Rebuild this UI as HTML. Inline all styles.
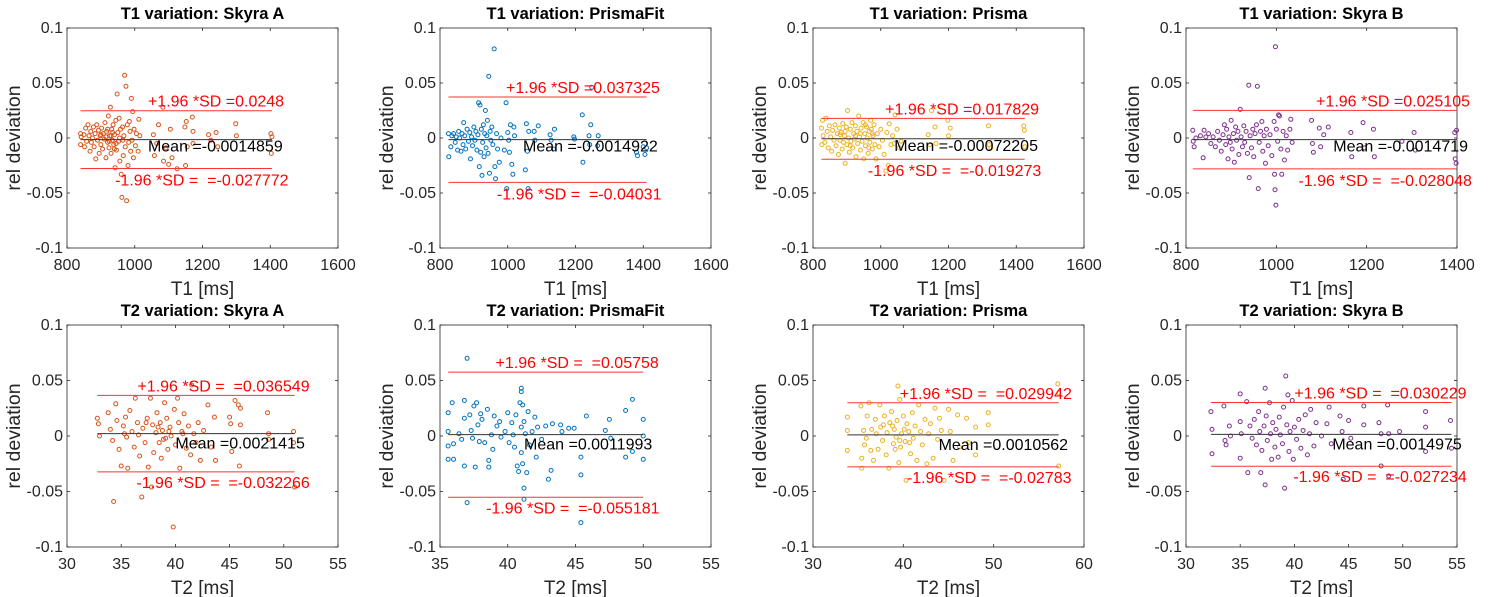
<!DOCTYPE html>
<html><head><meta charset="utf-8"><style>
html,body{margin:0;padding:0;background:#fff;}
svg{display:block;font-family:"Liberation Sans",sans-serif;}
</style></head><body>
<svg id="fig" width="1493" height="597" viewBox="0 0 1493 597" xmlns="http://www.w3.org/2000/svg"></svg>
<script>
// ---- data ----
const panelTitles=["T1 variation: Skyra A","T1 variation: PrismaFit","T1 variation: Prisma","T1 variation: Skyra B","T2 variation: Skyra A","T2 variation: PrismaFit","T2 variation: Prisma","T2 variation: Skyra B"];
const xLabels=["T1 [ms]","T1 [ms]","T1 [ms]","T1 [ms]","T2 [ms]","T2 [ms]","T2 [ms]","T2 [ms]"];
const xTicks=[[800,1000,1200,1400,1600],[800,1000,1200,1400,1600],[800,1000,1200,1400,1600],[800,1000,1200,1400],[30,35,40,45,50,55],[35,40,45,50,55],[30,40,50,60],[30,35,40,45,50,55]];
const yTicks=[0.1,0.05,0,-0.05,-0.1];
const yTickLabels=["0.1","0.05","0","-0.05","-0.1"];
const upperSD=[0.0248,0.037325,0.017829,0.025105,0.036549,0.05758,0.029942,0.030229];
const meanDev=[-0.0014859,-0.0014922,-0.00072205,-0.0014719,0.0021415,0.0011993,0.0010562,0.0014975];
const lowerSD=[-0.027772,-0.04031,-0.019273,-0.028048,-0.032266,-0.055181,-0.02783,-0.027234];
const upperText=["+1.96 *SD =0.0248","+1.96 *SD =0.037325","+1.96 *SD =0.017829","+1.96 *SD =0.025105","+1.96 *SD =  =0.036549","+1.96 *SD =  =0.05758","+1.96 *SD =  =0.029942","+1.96 *SD =  =0.030229"];
const meanText=["Mean =-0.0014859","Mean =-0.0014922","Mean =-0.00072205","Mean =-0.0014719","Mean =0.0021415","Mean =0.0011993","Mean =0.0010562","Mean =0.0014975"];
const lowerText=["-1.96 *SD =  =-0.027772","-1.96 *SD =  =-0.04031","-1.96 *SD =  =-0.019273","-1.96 *SD =  =-0.028048","-1.96 *SD =  =-0.032266","-1.96 *SD =  =-0.055181","-1.96 *SD =  =-0.02783","-1.96 *SD =  =-0.027234"];

const t1SkyraA=[[840,0.004],[840,-0.006],[842,0.001],[850,0.003],[852,-0.008],[855,0.009],[858,-0.003],[862,0.012],[865,0.002],[868,-0.012],[870,0.006],[872,-0.004],[875,0.000],[878,0.010],[880,-0.008],[883,0.004],[885,-0.019],[888,0.012],[890,-0.002],[893,0.007],[895,-0.014],[898,0.002],[900,-0.006],[902,0.009],[905,-0.010],[907,0.004],[910,-0.001],[912,0.014],[915,-0.018],[917,0.006],[920,-0.004],[922,0.020],[924,-0.009],[926,0.002],[928,0.028],[930,-0.014],[932,0.008],[934,-0.002],[936,0.012],[938,-0.006],[940,0.003],[942,-0.027],[944,0.016],[946,-0.011],[948,0.040],[950,0.005],[952,-0.003],[954,0.018],[956,-0.021],[958,0.008],[960,-0.033],[962,-0.054],[964,0.010],[966,-0.016],[968,0.002],[970,0.057],[972,-0.008],[974,0.047],[976,-0.057],[978,0.012],[980,-0.025],[982,-0.004],[984,0.015],[986,0.006],[988,-0.012],[990,0.036],[992,-0.002],[994,0.024],[996,-0.018],[998,0.008],[1002,-0.007],[1005,0.004],[1010,-0.012],[1012,0.017],[1015,0.002],[1055,0.003],[1058,-0.016],[1065,-0.005],[1070,0.012],[1083,0.028],[1085,-0.021],[1092,-0.009],[1100,-0.024],[1105,0.008],[1110,-0.018],[1125,-0.028],[1148,0.010],[1150,-0.025],[1152,0.015],[1155,-0.008],[1170,0.019],[1172,0.006],[1172,-0.005],[1218,0.003],[1225,-0.002],[1240,0.005],[1245,-0.008],[1298,0.013],[1300,0.002],[1402,0.004],[1403,-0.014],[1405,0.001],[900,0.003],[915,0.001],[925,-0.003],[935,0.005],[945,-0.005],[955,0.000],[965,-0.002],[930,0.002],[920,0.008],[940,-0.010]];
const t1PrismaFit=[[825,0.004],[826,-0.017],[832,-0.008],[835,0.002],[840,0.004],[845,-0.004],[848,0.001],[852,-0.011],[855,0.006],[858,0.000],[862,-0.012],[865,0.004],[868,-0.006],[870,0.014],[873,0.002],[876,-0.010],[880,0.008],[884,-0.003],[888,0.005],[890,-0.019],[893,0.001],[896,-0.007],[900,0.010],[903,-0.002],[906,0.006],[909,-0.011],[912,0.003],[914,0.032],[916,-0.026],[918,0.030],[920,-0.013],[922,0.008],[924,-0.034],[926,-0.004],[928,0.012],[930,-0.017],[932,0.004],[934,0.025],[936,-0.009],[938,0.002],[940,0.016],[942,-0.014],[944,0.056],[946,-0.032],[948,0.006],[950,-0.002],[953,0.010],[956,-0.006],[960,0.081],[962,-0.026],[964,-0.037],[967,0.004],[970,-0.010],[975,-0.022],[980,0.000],[990,-0.011],[995,0.032],[997,-0.046],[1000,0.005],[1003,-0.002],[1005,-0.013],[1008,0.012],[1012,-0.024],[1015,-0.033],[1018,0.010],[1020,0.002],[1052,-0.029],[1055,0.013],[1058,-0.012],[1060,-0.046],[1062,0.006],[1078,0.006],[1080,-0.002],[1090,0.011],[1125,0.003],[1128,-0.002],[1135,-0.010],[1138,0.008],[1195,0.001],[1197,-0.001],[1220,0.021],[1222,-0.022],[1240,0.002],[1242,-0.006],[1245,0.012],[1248,0.046],[1265,-0.007],[1267,0.002],[1380,-0.013],[1383,-0.016],[1400,-0.008],[1405,-0.015],[1410,-0.009]];
const t1Prisma=[[825,0.009],[826,-0.006],[828,0.016],[830,0.002],[835,-0.004],[838,0.018],[842,0.006],[845,-0.009],[848,0.011],[852,0.001],[855,-0.012],[858,0.007],[862,-0.002],[865,0.012],[868,-0.007],[872,0.004],[875,-0.015],[878,0.009],[880,-0.002],[883,0.005],[886,-0.010],[888,0.013],[890,-0.004],[893,0.002],[895,-0.023],[898,0.010],[900,-0.006],[902,0.025],[905,0.000],[907,-0.013],[910,0.008],[912,-0.003],[915,0.014],[917,-0.009],[920,0.004],[922,-0.001],[925,0.011],[927,-0.017],[930,0.006],[932,-0.005],[935,0.020],[937,0.001],[940,-0.011],[942,0.009],[945,-0.003],[948,0.014],[950,-0.019],[953,0.004],[955,-0.007],[958,0.010],[960,0.000],[963,-0.014],[966,0.006],[968,-0.004],[970,0.016],[972,0.008],[975,-0.010],[977,0.002],[980,0.012],[983,-0.006],[986,-0.019],[990,0.004],[995,-0.008],[1000,0.008],[1005,-0.002],[1010,-0.015],[1015,-0.030],[1018,0.005],[1022,-0.025],[1025,0.013],[1030,-0.006],[1035,0.002],[1040,-0.005],[1042,0.021],[1048,0.008],[1055,-0.009],[1060,-0.003],[1140,0.003],[1145,-0.006],[1150,0.025],[1160,0.010],[1163,-0.005],[1198,0.016],[1200,0.002],[1205,0.009],[1318,0.011],[1320,-0.006],[1325,-0.009],[1422,0.011],[1424,0.007],[1425,-0.008],[880,0.003],[895,0.006],[910,-0.007],[925,0.002],[940,0.004],[955,0.012],[965,-0.009],[975,0.004]];
const t1SkyraB=[[815,0.007],[816,-0.003],[818,-0.008],[822,0.000],[832,0.002],[838,-0.018],[840,0.007],[844,0.001],[850,0.004],[855,-0.005],[860,0.001],[865,-0.008],[870,0.006],[874,-0.002],[878,-0.012],[882,0.003],[885,0.012],[888,-0.006],[890,0.008],[893,-0.019],[895,0.001],[898,-0.004],[900,0.016],[902,-0.010],[905,0.004],[907,-0.022],[910,0.010],[912,-0.002],[915,0.006],[917,-0.015],[920,0.026],[922,0.001],[925,-0.008],[928,0.011],[930,-0.004],[933,0.006],[936,-0.014],[939,0.048],[940,-0.036],[942,0.002],[945,-0.009],[948,0.008],[950,-0.017],[953,0.004],[956,0.012],[958,0.047],[960,-0.046],[962,-0.004],[965,0.006],[968,0.015],[970,-0.012],[973,0.002],[976,-0.023],[978,0.008],[982,-0.007],[986,0.003],[990,-0.016],[995,0.015],[996,-0.033],[997,-0.047],[998,0.083],[999,-0.061],[1000,0.008],[1003,-0.003],[1005,0.021],[1007,0.020],[1010,-0.010],[1012,-0.033],[1015,0.006],[1018,-0.020],[1022,0.002],[1025,-0.011],[1030,0.008],[1032,0.017],[1035,-0.004],[1078,0.016],[1080,-0.005],[1082,-0.013],[1095,0.009],[1098,-0.008],[1105,0.003],[1115,0.010],[1165,0.005],[1167,-0.017],[1192,0.014],[1195,-0.009],[1215,0.008],[1217,-0.017],[1278,-0.003],[1305,0.005],[1308,-0.011],[1395,0.005],[1396,-0.019],[1398,-0.023],[1399,0.007]];
const t2SkyraA=[[32.8,0.016],[32.9,0.011],[33.0,0.000],[33.8,0.021],[34.0,0.006],[34.2,-0.004],[34.3,-0.059],[34.5,0.029],[34.6,0.014],[34.8,-0.012],[35.0,-0.027],[35.2,0.009],[35.4,0.017],[35.5,-0.001],[35.6,-0.029],[35.8,0.023],[36.0,0.004],[36.2,-0.010],[36.3,0.034],[36.5,0.012],[36.7,-0.018],[36.9,-0.055],[37.0,0.007],[37.2,-0.006],[37.4,0.016],[37.5,-0.028],[37.7,0.034],[37.8,-0.046],[37.9,0.010],[38.0,-0.015],[38.2,0.003],[38.3,0.021],[38.5,-0.006],[38.6,0.012],[38.7,-0.020],[38.8,0.005],[39.0,0.030],[39.1,-0.002],[39.2,0.016],[39.3,-0.012],[39.5,0.008],[39.6,0.000],[39.8,-0.082],[39.9,0.024],[40.0,-0.008],[40.2,0.034],[40.3,0.012],[40.4,-0.029],[40.6,0.004],[40.8,0.020],[41.0,-0.011],[41.2,0.009],[41.4,-0.017],[41.5,0.046],[41.7,0.002],[41.9,-0.006],[42.1,0.012],[42.3,-0.022],[42.6,0.005],[43.0,0.028],[43.3,-0.010],[43.6,0.017],[43.7,-0.022],[45.0,0.017],[45.1,0.011],[45.2,-0.014],[45.5,0.032],[45.8,0.028],[45.9,-0.027],[46.0,0.025],[46.0,0.010],[48.5,0.021],[48.6,0.002],[48.6,-0.003],[50.9,0.004],[51.0,-0.046],[50.9,-0.006],[38.4,0.008],[38.9,-0.003],[39.4,0.004],[36.6,0.001],[35.3,0.002],[37.3,0.012],[40.7,0.002]];
const t2PrismaFit=[[35.6,0.021],[35.6,0.004],[35.6,-0.009],[35.6,-0.021],[35.9,0.030],[36.0,-0.021],[36.0,-0.007],[36.4,0.002],[36.6,-0.003],[36.8,0.032],[36.8,0.016],[36.8,-0.027],[37.0,0.070],[37.0,-0.060],[37.2,0.019],[37.3,0.005],[37.4,-0.002],[37.5,0.027],[37.6,-0.028],[37.7,0.030],[37.8,0.010],[37.9,-0.005],[38.0,0.020],[38.1,0.015],[38.3,-0.006],[38.5,0.024],[38.6,-0.022],[38.6,-0.028],[38.8,0.001],[38.9,-0.012],[39.0,0.018],[39.2,0.009],[39.4,0.013],[39.5,-0.001],[39.8,0.004],[40.0,0.021],[40.1,-0.006],[40.3,0.012],[40.4,0.001],[40.5,-0.010],[40.6,0.019],[40.7,-0.027],[40.8,-0.032],[40.9,0.030],[41.0,0.043],[41.0,0.040],[41.0,0.008],[41.0,-0.015],[41.1,0.028],[41.1,-0.025],[41.2,0.013],[41.2,-0.047],[41.2,-0.057],[41.3,0.002],[41.4,-0.033],[41.5,0.022],[41.6,-0.008],[41.8,0.004],[42.0,0.017],[42.1,-0.019],[42.2,0.008],[42.5,-0.003],[42.8,0.009],[43.0,-0.039],[43.2,-0.031],[43.3,0.011],[43.9,0.010],[44.0,0.004],[44.5,0.007],[44.9,0.007],[45.4,-0.019],[45.4,-0.035],[45.4,-0.078],[45.8,0.018],[47.2,0.005],[47.5,0.015],[47.6,-0.002],[48.7,0.023],[48.7,-0.019],[49.2,0.033],[49.2,-0.014],[50.0,0.015],[50.0,0.000],[50.0,-0.021]];
const t2Prisma=[[33.8,0.017],[33.8,0.005],[33.8,-0.013],[35.3,0.027],[35.4,-0.020],[35.4,-0.029],[35.6,0.005],[35.7,-0.008],[35.9,-0.002],[36.0,0.018],[36.2,0.030],[36.4,-0.013],[36.5,0.006],[36.7,-0.022],[36.9,0.015],[37.0,0.002],[37.2,-0.012],[37.4,0.028],[37.5,0.008],[37.7,-0.004],[37.9,0.018],[38.1,-0.017],[38.2,0.003],[38.4,-0.029],[38.5,0.012],[38.7,0.022],[38.9,-0.007],[39.0,0.006],[39.2,-0.001],[39.3,0.014],[39.4,0.045],[39.5,-0.024],[39.6,0.033],[39.7,-0.010],[39.8,0.002],[40.0,0.018],[40.2,-0.005],[40.3,-0.040],[40.4,0.011],[40.6,0.004],[40.8,-0.016],[41.0,0.021],[41.1,-0.002],[41.3,0.009],[41.5,-0.022],[41.7,0.028],[41.9,0.004],[42.1,-0.008],[42.4,0.015],[42.6,-0.025],[42.8,0.002],[43.0,0.011],[43.3,-0.020],[43.5,0.025],[43.8,-0.003],[44.0,0.016],[44.2,0.005],[44.5,-0.040],[45.0,0.024],[45.2,0.004],[45.5,-0.022],[46.0,0.019],[46.2,-0.010],[47.0,0.016],[47.2,-0.006],[48.0,0.008],[48.0,-0.017],[49.4,0.021],[49.4,0.010],[57.1,0.047],[57.2,0.039],[57.2,-0.027],[38.8,0.009],[39.6,-0.004],[40.1,0.006],[37.8,0.010],[39.1,-0.012],[40.7,-0.006]];
const t2SkyraB=[[32.3,0.022],[32.4,0.006],[32.4,-0.016],[33.5,0.027],[33.6,-0.004],[33.7,-0.008],[34.0,0.009],[34.1,0.000],[35.0,0.038],[35.0,0.013],[35.0,-0.020],[35.1,0.002],[35.6,0.031],[35.7,-0.033],[35.9,0.009],[36.1,-0.002],[36.3,0.015],[36.5,-0.008],[36.7,0.022],[36.8,0.004],[36.9,-0.033],[37.0,-0.013],[37.2,0.009],[37.3,0.043],[37.3,-0.044],[37.4,0.018],[37.5,-0.004],[37.7,0.030],[37.8,0.002],[37.9,-0.021],[38.0,0.012],[38.2,-0.010],[38.3,0.006],[38.5,-0.019],[38.6,0.017],[38.7,0.001],[38.9,-0.007],[39.0,0.026],[39.1,-0.047],[39.2,0.054],[39.3,0.010],[39.4,0.037],[39.5,-0.014],[39.6,0.004],[39.8,0.032],[39.9,-0.021],[40.0,0.008],[40.2,-0.003],[40.4,0.015],[40.6,-0.011],[40.8,0.005],[41.0,0.019],[41.2,-0.017],[41.4,0.002],[41.5,0.024],[41.8,-0.009],[42.0,0.012],[42.5,0.000],[43.0,0.011],[43.2,0.026],[43.4,-0.007],[44.2,0.018],[44.4,0.004],[44.5,-0.039],[45.0,0.014],[45.2,-0.002],[46.4,0.027],[46.4,0.010],[47.8,0.012],[48.0,0.002],[48.0,-0.027],[48.6,0.028],[48.7,0.002],[48.7,-0.036],[49.7,0.004],[52.1,0.022],[52.1,0.008],[52.1,-0.014],[54.4,0.014],[54.5,-0.011]];
const panelData=[t1SkyraA,t1PrismaFit,t1Prisma,t1SkyraB,t2SkyraA,t2PrismaFit,t2Prisma,t2SkyraB];

// ---- layout / style (not data) ----
const colors=["#D95319","#0072BD","#EDB120","#7E2F8E","#D95319","#0072BD","#EDB120","#7E2F8E"];
const boxLeft=[67,440,813,1186];
const boxW=271;
const rowTop=[28,325], rowBot=[248,547];
const labelX=[[1039,1039,942],[995,1045,968],[1013,1040,962],[1088,1126,1049],[36.5,40.0,36.4],[39.1,41.2,38.4],[39.6,43.9,40.4],[40.0,43.5,39.9]];
const NS="http://www.w3.org/2000/svg";
const svg=document.getElementById('fig');
function el(tag,attrs,parent){const e=document.createElementNS(NS,tag);for(const k in attrs)e.setAttribute(k,attrs[k]);(parent||svg).appendChild(e);return e;}

for(let p=0;p<8;p++){
  const row=p<4?0:1, col=p%4;
  const L=boxLeft[col], R=L+boxW, T=rowTop[row], B=rowBot[row];
  const ticks=xTicks[p];
  const xmin=ticks[0], xmax=ticks[ticks.length-1];
  const sx=v=>L+(v-xmin)/(xmax-xmin)*(R-L);
  const sy=v=>T+(0.1-v)/0.2*(B-T);
  const g=el('g',{});
  
  
  const title=el('text',{x:(L+R)/2,y:T-9,'text-anchor':'middle','font-size':'16.5','font-weight':'bold',fill:'#000'},g);
  title.textContent=panelTitles[p];
  
  
  const frame=el('rect',{x:L,y:T,width:R-L,height:B-T,fill:'#fff',stroke:'#262626','stroke-width':'0.8'},g);
  
  
  yTicks.forEach((v,i)=>{
    const y=sy(v);
    el('line',{x1:L,x2:L+3,y1:y,y2:y,stroke:'#262626','stroke-width':'0.8'},g);
    el('line',{x1:R,x2:R-3,y1:y,y2:y,stroke:'#262626','stroke-width':'0.8'},g);
    const t=el('text',{x:L-4,y:y+5,'text-anchor':'end','font-size':'16',fill:'#262626'},g);
    t.textContent=yTickLabels[i];
    
    
  });
  ticks.forEach(v=>{
    const x=sx(v);
    el('line',{x1:x,x2:x,y1:B,y2:B-3,stroke:'#262626','stroke-width':'0.8'},g);
    el('line',{x1:x,x2:x,y1:T,y2:T+3,stroke:'#262626','stroke-width':'0.8'},g);
    const t=el('text',{x:x,y:B+22,'text-anchor':'middle','font-size':'16',fill:'#262626'},g);
    t.textContent=String(v);
    
    
  });
  const xl=el('text',{x:(L+R)/2,y:B+47,'text-anchor':'middle','font-size':'19',fill:'#262626'},g);
  xl.textContent=xLabels[p];
  
  
  const yl=el('text',{x:0,y:0,'text-anchor':'middle','font-size':'19.5',fill:'#262626',transform:`translate(${L-47},${(T+B)/2}) rotate(-90)`},g);
  yl.textContent='rel deviation';
  
  
  const d=panelData[p];
  let dmin=Infinity,dmax=-Infinity;
  d.forEach(pt=>{dmin=Math.min(dmin,pt[0]);dmax=Math.max(dmax,pt[0]);});
  d.forEach(pt=>{
    const c=el('circle',{cx:sx(pt[0]),cy:sy(pt[1]),r:2,fill:'none',stroke:colors[p],'stroke-width':'1'},g);
    
    
  });
  const lines=[[upperSD[p],'#ff3333','upper-limit-line'],[meanDev[p],'#333','mean-line'],[lowerSD[p],'#ff3333','lower-limit-line']];
  lines.forEach(l=>{
    const ln=el('line',{x1:sx(dmin),x2:sx(dmax),y1:sy(l[0]),y2:sy(l[0]),stroke:l[1],'stroke-width':'1'},g);
    
    
  });
  const off=row===0?[-4,12,17]:[-4,15,16];
  const labs=[[upperText[p],upperSD[p],'#ff0000','upper-limit-label'],[meanText[p],meanDev[p],'#000','mean-label'],[lowerText[p],lowerSD[p],'#ff0000','lower-limit-label']];
  labs.forEach((lb,i)=>{
    const t=el('text',{x:sx(labelX[p][i]),y:sy(lb[1])+off[i],'font-size':'16',fill:lb[2]},g);
    t.setAttribute('style','white-space:pre');
    t.textContent=lb[0];
    
    
  });
}
</script>
</body></html>
